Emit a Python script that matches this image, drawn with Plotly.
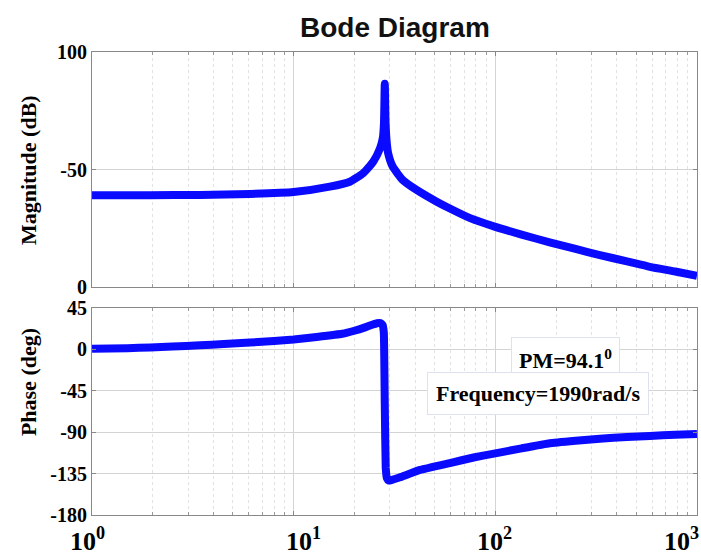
import plotly.graph_objects as go

# ---------------- data ----------------
mag_freq = [1, 1.94, 3.43, 6.07, 10, 15.1, 19.0, 22.1, 24.8, 26.8, 27.7, 28.05,
            28.3, 28.55, 28.9, 29.4, 31.0, 34.8, 40.7, 51.2, 59.5, 75, 100, 135,
            186, 250, 330, 450, 584, 780, 1000]
mag_val = [39.1, 39.1, 39.2, 39.6, 40.4, 42.7, 44.8, 48.4, 53.3, 59.0, 63.5, 70,
           86.5, 70, 62, 57, 51.2, 45.5, 41.3, 36.3, 33.4, 29.3, 25.6, 22.3,
           19.0, 16.2, 13.6, 10.9, 8.6, 6.6, 4.8]

ph_freq = [1, 1.5, 1.94, 2.5, 3.43, 4.5, 6.07, 8, 10, 13, 17.4, 20, 22.6, 24.5,
           25.9, 26.9, 27.6, 28.0, 28.3, 28.6, 29.0, 29.6, 30.5, 33.7, 42.3,
           59.5, 78, 100, 135, 186, 250, 330, 450, 584, 780, 1000]
ph_val = [0.7, 1.4, 2.2, 3.2, 4.5, 5.9, 7.5, 9.2, 10.8, 13.6, 17.0, 20.3, 24.0,
          26.8, 28.5, 28.6, 26.5, 18, -60, -128, -140, -142.5, -142, -139, -131,
          -123.5, -117.5, -113, -107.5, -102, -99.3, -97, -95.3, -94, -92.8, -92]

mag_tickvals = [0, 50, 100]
mag_ticktext = ["<b>0</b>", "<b>-50</b>", "<b>100</b>"]
ph_tickvals = [-180, -135, -90, -45, 0, 45]
ph_ticktext = ["<b>-180</b>", "<b>-135</b>", "<b>-90</b>", "<b>-45</b>", "<b>0</b>", "<b>45</b>"]
x_tickvals = [1, 10, 100, 1000]
x_ticktext = ["<b>10<sup>0</sup></b>", "<b>10<sup>1</sup></b>",
              "<b>10<sup>2</sup></b>", "<b>10<sup>3</sup></b>"]
x_minor = [m * d for d in (1, 10, 100) for m in range(2, 10)]

BLUE = "#0a0aff"
SERIF = "Liberation Serif, Times New Roman, serif"

fig = go.Figure()
fig.add_trace(go.Scatter(x=mag_freq, y=mag_val, mode="lines",
                         line=dict(color=BLUE, width=8, shape="spline", smoothing=0.5),
                         xaxis="x", yaxis="y", showlegend=False))
fig.add_trace(go.Scatter(x=ph_freq, y=ph_val, mode="lines",
                         line=dict(color=BLUE, width=8, shape="spline", smoothing=0.3),
                         xaxis="x2", yaxis="y2", showlegend=False))

XR = [-0.0002, 3.0002]
xcommon = dict(type="log", range=XR, showline=True, linecolor="#888888",
               linewidth=1, mirror="ticks", ticks="inside", ticklen=4,
               tickcolor="#888888", showgrid=True, gridcolor="#d4d4d4",
               gridwidth=1, tickvals=x_tickvals, automargin=False,
               showticklabels=False,
               minor=dict(tickvals=x_minor, ticks="inside", ticklen=3,
                          tickcolor="#999999", showgrid=True,
                          gridcolor="#e2e2e2", griddash="dot"),
               zeroline=False)
ycommon = dict(showline=True, linecolor="#888888", linewidth=1, mirror="ticks",
               ticks="inside", ticklen=4, tickcolor="#888888", showgrid=True,
               gridcolor="#d4d4d4", zeroline=False, automargin=False,
               tickfont=dict(family=SERIF, size=20, color="black"))

# x tick labels placed on the phase axis's own log scale
x_label_shift = [-5, 10, -1, 4]
x_label_anchor = ["center", "center", "center", "right"]
tick_annots = []
for v, t, s, a in zip(x_tickvals, x_ticktext, x_label_shift, x_label_anchor):
    import math
    tick_annots.append(dict(text=t, xref="x2", yref="paper", x=math.log10(v),
                            y=0, yshift=-43, xshift=s, xanchor=a,
                            yanchor="bottom", showarrow=False,
                            font=dict(family=SERIF, size=26, color="black")))

fig.update_layout(
    width=701, height=558,
    margin=dict(l=92, r=4, t=52, b=43),
    paper_bgcolor="white", plot_bgcolor="white",
    xaxis=dict(**xcommon, domain=[0, 1], anchor="y"),
    yaxis=dict(**ycommon, domain=[0.4924, 1.0], anchor="x", range=[0, 100],
               tickvals=mag_tickvals, ticktext=mag_ticktext),
    xaxis2=dict(**xcommon, domain=[0, 1], anchor="y2"),
    yaxis2=dict(**ycommon, domain=[0, 0.447], anchor="x2", range=[-180, 45],
                tickvals=ph_tickvals, ticktext=ph_ticktext),
    annotations=tick_annots + [
        dict(text="<b>Bode Diagram</b>", xref="paper", yref="paper",
             x=0.5, y=1.0, yshift=25, xanchor="center", yanchor="middle",
             showarrow=False,
             font=dict(family="Liberation Sans, Arial, sans-serif", size=28,
                       color="#111111")),
        dict(text="<b>Magnitude (dB)</b>", xref="paper", yref="paper",
             x=0, xshift=-64, y=0.745, xanchor="center", yanchor="middle",
             textangle=-90, showarrow=False,
             font=dict(family=SERIF, size=22, color="black")),
        dict(text="<b>Phase (deg)</b>", xref="paper", yref="paper",
             x=0, xshift=-64, y=0.287, xanchor="center", yanchor="middle",
             textangle=-90, showarrow=False,
             font=dict(family=SERIF, size=22, color="black")),
        dict(text="<b>PM=94.1<sup>0</sup></b>", xref="x2", yref="y2",
             x=2.35, y=-10.8, xanchor="center", yanchor="middle",
             showarrow=False, bgcolor="white",
             bordercolor="#dde3ee", borderwidth=1, borderpad=7,
             font=dict(family=SERIF, size=22, color="black")),
        dict(text="<b>Frequency=1990rad/s</b>", xref="x2", yref="y2",
             x=2.21, y=-47.7, xanchor="center", yanchor="middle",
             showarrow=False, bgcolor="white",
             bordercolor="#dde3ee", borderwidth=1, borderpad=8,
             font=dict(family=SERIF, size=22, color="black")),
    ],
)

fig.write_html("out.html")
